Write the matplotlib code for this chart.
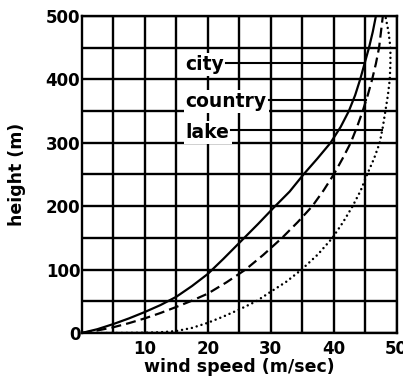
import numpy as np
import matplotlib
matplotlib.use('Agg')
import matplotlib.pyplot as plt

# wind speed (m/sec) vs height (m)
city_u = [0, 2.5, 5, 7.5, 10, 12.5, 15, 17.5, 20, 22.5, 25.4, 28, 30.5, 33,
          35.2, 37.4, 39.5, 41.1, 42.4, 43.4, 44.2, 44.9, 45.6, 46.2, 46.7]
city_h = [0, 6, 14, 23, 33, 44, 57, 74, 93, 117, 146, 172, 198, 223,
          250, 275, 300, 325, 350, 375, 400, 425, 450, 475, 500]

country_u = [0, 2.5, 5, 7.5, 10, 12.5, 15, 17.5, 20, 23, 26.0, 28.8, 31.8, 34.3,
             36.6, 38.4, 40.0, 41.4, 42.7, 43.7, 44.6, 45.4, 46.1, 46.7, 47.2, 47.5, 47.8]
country_h = [0, 4, 9, 15.5, 23, 31.5, 41, 51, 62, 80, 100, 123, 150, 175,
             200, 225, 250, 275, 300, 325, 350, 375, 400, 425, 450, 475, 500]

lake_u = [0, 5, 10, 12.5, 15, 17.5, 20, 22.5, 25, 27.7, 30, 32.5, 34.9, 37.5, 39.8,
          41.5, 43.0, 44.3, 45.3, 46.4, 47.3, 47.8, 48.2, 48.6, 48.9, 49.0, 49.0, 48.7, 48.2]
lake_h = [0, 0, 0.5, 1.2, 3, 8, 16, 26, 37, 50, 65, 81, 100, 124, 150,
          175, 200, 225, 250, 275, 300, 325, 350, 375, 400, 425, 450, 475, 500]

labels = ['city', 'country', 'lake']
label_h = [426, 368, 320]
label_u = 16.5

x_ticks = [10, 20, 30, 40, 50]
y_ticks = [0, 100, 200, 300, 400, 500]

plt.rcParams['font.family'] = ['DejaVu Sans']
plt.rcParams['font.weight'] = 'bold'

fig = plt.figure(figsize=(4.03, 3.89), dpi=100)
ax = fig.add_axes([0.2027, 0.1440, 0.7817, 0.8149])
ax.set_xlim(0, 50)
ax.set_ylim(0, 500)

ax.set_xticks(x_ticks)
ax.set_xticks([5, 15, 25, 35, 45], minor=True)
ax.set_yticks(y_ticks)
ax.set_yticks([50, 150, 250, 350, 450], minor=True)
ax.tick_params(which='both', length=0)
ax.tick_params(axis='x', pad=5, labelsize=12)
ax.tick_params(axis='y', pad=1, labelsize=12)
ax.grid(which='both', color='black', lw=1.7, zorder=0)
ax.set_axisbelow(True)
for sp in ax.spines.values():
    sp.set_linewidth(1.7)

ax.plot(city_u, city_h, color='black', lw=1.6, zorder=3)
ax.plot(country_u, country_h, color='black', lw=1.6, ls=(0, (4.5, 2.3)), zorder=3)
ax.plot(lake_u, lake_h, color='black', lw=1.8, ls=(0, (0.01, 2.0)),
        dash_capstyle='round', zorder=3)

ax.set_xlabel('wind speed (m/sec)', fontsize=12.5, fontweight='bold')
ax.set_ylabel('height (m)', fontsize=12.5, fontweight='bold')
ax.xaxis.set_label_coords(0.5, -0.107)
ax.xaxis.label.set_va('center')
ax.yaxis.set_label_coords(-0.205, 0.5)
ax.yaxis.label.set_va('center')

texts = []
for lab, h in zip(labels, label_h):
    t = ax.text(label_u, h, lab, fontsize=13.5, fontweight='bold', ha='left',
                va='center_baseline', zorder=2,
                bbox=dict(facecolor='white', edgecolor='none', pad=1.5))
    texts.append(t)

fig.canvas.draw()
renderer = fig.canvas.get_renderer()
curves = [(city_u, city_h), (country_u, country_h), (lake_u, lake_h)]
for t, h, (cu, ch) in zip(texts, label_h, curves):
    bb = t.get_window_extent(renderer).transformed(ax.transData.inverted())
    u_end = np.interp(h, ch, cu)
    ax.plot([bb.x1 + 0.3, u_end], [h, h], color='black', lw=1.5, zorder=2)

fig.savefig('out.png', dpi=100)
